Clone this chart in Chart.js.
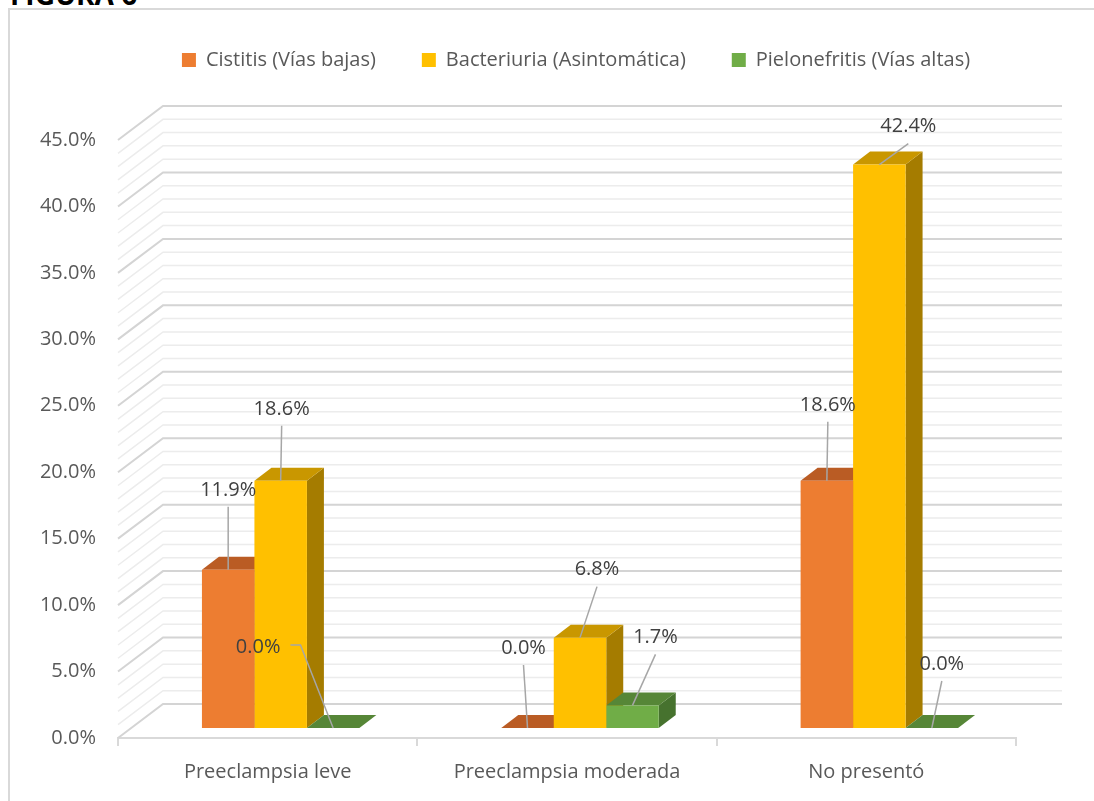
<!DOCTYPE html>
<html lang="es">
<head>
<meta charset="utf-8">
<title>Figura 6</title>
<script src="https://cdn.jsdelivr.net/npm/chart.js@4.4.1/dist/chart.umd.min.js"></script>
<style>
  html, body { margin: 0; padding: 0; background: #fff; overflow: hidden; }
  #figTitle {
    position: absolute; left: 10px; top: -20px;
    font: bold 28px "Open Sans", Lato, sans-serif; line-height: 28px; color: #000;
  }
  #frame {
    position: absolute; left: 8px; top: 8px; width: 1100px; height: 800px;
    border-left: 2px solid #d9d9d9; border-top: 2px solid #d9d9d9;
  }
  #wrap { position: absolute; left: 0; top: 0; width: 1094px; height: 801px; }
</style>
</head>
<body>
<div id="figTitle">FIGURA 6</div>
<div id="frame"></div>
<div id="wrap"><canvas id="chart"></canvas></div>

<script>
// Categories and series (percentages)
const categories = ['Preeclampsia leve', 'Preeclampsia moderada', 'No presentó'];
const seriesNames = ['Cistitis (Vías bajas)', 'Bacteriuria (Asintomática)', 'Pielonefritis (Vías altas)'];
const cistitis = [11.9, 0.0, 18.6];
const bacteriuria = [18.6, 6.8, 42.4];
const pielonefritis = [0.0, 1.7, 0.0];

// Colours: front face, top face, right side face
const frontColors = ['#ED7D31', '#FFC000', '#70AD47'];
const topColors = ['#BA5C24', '#C99700', '#568637'];
const sideColors = ['#9E4E1E', '#A57C00', '#46722E'];

// Where each value label sits, relative to the top-front centre of its bar
const labelOffsets = [
  [[0, -80], [-4, -80], [1, -76]],
  [[1, -72], [17, -68], [29, -38]],
  [[-75, -81], [23, -68], [10, -64]],
];

// 3D geometry: wall depth, bar offset into the room, bar depth
const WALL = { x: 45, y: -34 };
const BAR_SHIFT = { x: 13, y: -10 };
const BAR_DEPTH = { x: 17, y: -13 };

const FONT = '"Open Sans", Lato, sans-serif';
Chart.defaults.font.family = FONT;
Chart.defaults.font.size = 20;
Chart.defaults.color = '#595959';

function poly(ctx, pts) {
  ctx.beginPath();
  ctx.moveTo(pts[0][0], pts[0][1]);
  for (let i = 1; i < pts.length; i++) ctx.lineTo(pts[i][0], pts[i][1]);
  ctx.closePath();
  ctx.fill();
}

// Side wall, back wall and floor lines, then the top/side faces of every bar
const room3d = {
  id: 'room3d',
  beforeDatasetsDraw(chart) {
    const { ctx, chartArea, scales } = chart;
    const y = scales.y;
    ctx.save();
    for (let v = 0; v <= 45; v++) {
      const py = y.getPixelForValue(v);
      const major = v % 5 === 0;
      ctx.strokeStyle = major ? '#d4d4d4' : '#ececec';
      ctx.lineWidth = major ? 2 : 1.5;
      ctx.beginPath();
      ctx.moveTo(chartArea.left, py);
      ctx.lineTo(chartArea.left + WALL.x, py + WALL.y);
      ctx.lineTo(chartArea.right + WALL.x + 1, py + WALL.y);
      ctx.stroke();
    }

    ctx.translate(BAR_SHIFT.x, BAR_SHIFT.y);
    const metas = chart.data.datasets.map((d, i) => chart.getDatasetMeta(i));
    categories.forEach((c, i) => {
      metas.forEach((meta, di) => {
        const bar = meta.data[i];
        const l = bar.x - bar.width / 2, r = bar.x + bar.width / 2;
        const t = bar.y, b = bar.base;
        ctx.fillStyle = sideColors[di];
        poly(ctx, [[r, t], [r + BAR_DEPTH.x, t + BAR_DEPTH.y], [r + BAR_DEPTH.x, b + BAR_DEPTH.y], [r, b]]);
        ctx.fillStyle = topColors[di];
        poly(ctx, [[l, t], [l + BAR_DEPTH.x, t + BAR_DEPTH.y], [r + BAR_DEPTH.x, t + BAR_DEPTH.y], [r, t]]);
      });
    });
    ctx.restore();
  },
  // front faces are drawn by Chart.js, pushed back into the room
  beforeDatasetDraw(chart) {
    chart.ctx.save();
    chart.ctx.translate(BAR_SHIFT.x, BAR_SHIFT.y);
  },
  afterDatasetDraw(chart) {
    chart.ctx.restore();
  }
};

// Value labels with leader lines
const valueLabels = {
  id: 'valueLabels',
  afterDatasetsDraw(chart) {
    const ctx = chart.ctx;
    ctx.save();
    ctx.font = '20px ' + FONT;
    ctx.textAlign = 'center';
    ctx.textBaseline = 'middle';
    ctx.strokeStyle = '#a6a6a6';
    ctx.lineWidth = 1.5;
    chart.data.datasets.forEach((ds, di) => {
      chart.getDatasetMeta(di).data.forEach((bar, i) => {
        const ax = bar.x + BAR_SHIFT.x, ay = bar.y + BAR_SHIFT.y;
        const [ox, oy] = labelOffsets[di][i];
        const lx = ax + ox, ly = ay + oy;
        const text = ds.data[i].toFixed(1) + '%';
        ctx.beginPath();
        if (Math.abs(ox) > 40) {
          // label off to one side: leave from its edge with a short stub
          const dir = Math.sign(-ox);
          const sx = lx + dir * (ctx.measureText(text).width / 2 + 10);
          ctx.moveTo(sx, ly - 2);
          ctx.lineTo(sx + dir * 10, ly - 2);
        } else {
          ctx.moveTo(lx, ly + 17);
        }
        ctx.lineTo(ax, ay);
        ctx.stroke();
        ctx.fillStyle = '#404040';
        ctx.fillText(text, lx, ly);
      });
    });
    ctx.restore();
  }
};

// Legend sits higher and further right than the stacked layout puts it
const legendPlace = {
  id: 'legendPlace',
  afterLayout(chart) {
    const lg = chart.legend;
    lg.top -= 60; lg.bottom -= 60;
    lg.left += 64; lg.right += 64;
  }
};

const seriesValues = [cistitis, bacteriuria, pielonefritis];

new Chart(document.getElementById('chart'), {
  type: 'bar',
  data: {
    labels: categories,
    datasets: seriesNames.map((name, i) => ({
      label: name,
      data: seriesValues[i],
      backgroundColor: frontColors[i],
      borderWidth: 0,
      categoryPercentage: 0.526,
      barPercentage: 1.0,
      clip: false
    }))
  },
  options: {
    responsive: true,
    maintainAspectRatio: false,
    animation: false,
    layout: { padding: { top: 64, left: 8, right: 78, bottom: 18 } },
    scales: {
      x: {
        afterFit: (s) => { s.height = 45; },
        border: { display: true, color: '#d9d9d9', width: 2 },
        grid: { display: true, drawOnChartArea: false, drawTicks: true, tickLength: 8, offset: true, color: '#d9d9d9', lineWidth: 2 },
        ticks: { padding: 14, color: '#595959', font: { size: 20 } }
      },
      y: {
        min: 0,
        max: 45,
        afterFit: (s) => { s.width = 110; },
        border: { display: false },
        grid: { display: false, drawTicks: false },
        ticks: {
          stepSize: 5,
          padding: 22,
          color: '#595959',
          font: { size: 20 },
          callback: (v) => v.toFixed(1) + '%'
        }
      }
    },
    plugins: {
      tooltip: { enabled: false },
      legend: {
        position: 'top',
        labels: {
          boxWidth: 14,
          boxHeight: 14,
          padding: 46,
          color: '#595959',
          font: { size: 20 }
        }
      }
    }
  },
  plugins: [room3d, valueLabels, legendPlace]
});
</script>
</body>
</html>
